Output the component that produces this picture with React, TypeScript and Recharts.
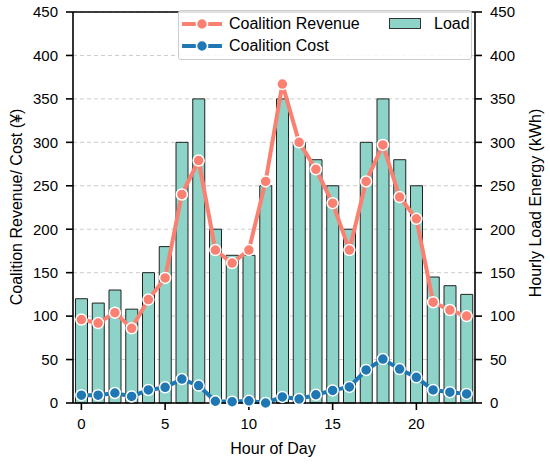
import React from 'react';
import {
  ComposedChart,
  Bar,
  Line,
  XAxis,
  YAxis,
  CartesianGrid,
  Legend,
  ReferenceLine,
} from 'recharts';

const HOURS = [0, 1, 2, 3, 4, 5, 6, 7, 8, 9, 10, 11, 12, 13, 14, 15, 16, 17, 18, 19, 20, 21, 22, 23];
const REVENUE = [96, 92, 104, 86, 119, 144, 240, 279, 176, 161, 176, 255, 367, 300, 269, 230, 176, 255, 297, 237, 212, 116, 107, 100];
const COST = [9, 9, 11.5, 7.5, 15, 18, 27.5, 20, 2, 1.5, 2.5, 0, 7, 4.5, 9.5, 14.5, 18.5, 38, 50.5, 39, 29.5, 15, 12.5, 10.5];
const LOAD = [120, 115, 130, 108, 150, 180, 300, 350, 200, 170, 170, 250, 350, 300, 280, 250, 200, 300, 350, 280, 250, 145, 135, 125];
const Y_TICKS = [0, 50, 100, 150, 200, 250, 300, 350, 400, 450];

const REV_COLOR = '#fa8072';
const COST_COLOR = '#1f77b4';
const LOAD_COLOR = '#8dd3c7';
const FONT = '"Liberation Sans", Arial, Helvetica, sans-serif';

const data = HOURS.map((h, i) => ({
  hour: h,
  revenue: REVENUE[i],
  cost: COST[i],
  load: LOAD[i],
}));

// axis titles, placed by hand
const AxisTitle = ({ tx, ty, rot, title }: any) => (
  <text
    x={tx}
    y={ty}
    transform={rot ? `rotate(${rot}, ${tx}, ${ty})` : undefined}
    textAnchor="middle"
    dominantBaseline="central"
    fill="#000"
    fontSize={16}
    fontFamily={FONT}
  >
    {title}
  </text>
);

const LineHandle = ({ color }: { color: string }) => (
  <svg width={40} height={14} style={{ display: 'block' }}>
    <line x1={1} y1={7} x2={13} y2={7} stroke={color} strokeWidth={4} strokeLinecap="round" />
    <line x1={27} y1={7} x2={39} y2={7} stroke={color} strokeWidth={4} strokeLinecap="round" />
    <circle cx={20} cy={7} r={5.5} fill={color} stroke="#fff" strokeWidth={1.5} />
  </svg>
);

const LegendBox = () => {
  const txt: React.CSSProperties = { fontSize: 16, fontFamily: FONT, color: '#000', lineHeight: '16px' };
  return (
    <div
      style={{
        position: 'relative',
        width: 294,
        height: 50,
        background: 'rgba(255,255,255,0.85)',
        border: '1px solid #cccccc',
        borderRadius: 3,
        boxSizing: 'border-box',
      }}
    >
      <div style={{ position: 'absolute', left: 3, top: 6 }}><LineHandle color={REV_COLOR} /></div>
      <div style={{ ...txt, position: 'absolute', left: 50, top: 5 }}>Coalition Revenue</div>
      <div style={{ position: 'absolute', left: 3, top: 28 }}><LineHandle color={COST_COLOR} /></div>
      <div style={{ ...txt, position: 'absolute', left: 50, top: 27 }}>Coalition Cost</div>
      <div
        style={{
          position: 'absolute',
          left: 210,
          top: 7,
          width: 32,
          height: 11,
          background: LOAD_COLOR,
          border: '1px solid #333',
          boxSizing: 'border-box',
        }}
      />
      <div style={{ ...txt, position: 'absolute', left: 255, top: 5 }}>Load</div>
    </div>
  );
};

export default function App() {
  const tick = { fill: '#000', fontSize: 15, fontFamily: FONT };
  return (
    <div style={{ position: 'absolute', left: 0, top: 0, width: 550, height: 466, background: '#fff' }}>
      <ComposedChart
        width={550}
        height={466}
        data={data}
        margin={{ top: 12, right: 0, bottom: 0, left: 0 }}
        barCategoryGap="15%"
      >
        <CartesianGrid
          yAxisId="left"
          vertical={false}
          stroke="#cccccc"
          strokeDasharray="4 3"
        />
        <XAxis
          dataKey="hour"
          interval={4}
          height={63}
          tickSize={7}
          tickMargin={8}
          tick={tick}
          axisLine={{ stroke: '#000', strokeWidth: 1.6 }}
          tickLine={{ stroke: '#000', strokeWidth: 1.6 }}
          label={<AxisTitle tx={273} ty={448} title="Hour of Day" />}
        />
        <YAxis
          yAxisId="left"
          domain={[0, 450]}
          ticks={Y_TICKS}
          width={73}
          tickSize={7}
          tickMargin={8}
          tick={tick}
          axisLine={{ stroke: '#000', strokeWidth: 1.6 }}
          tickLine={{ stroke: '#000', strokeWidth: 1.6 }}
          label={<AxisTitle tx={16} ty={207} rot={-90} title="Coalition Revenue/ Cost (¥)" />}
        />
        <YAxis
          yAxisId="right"
          orientation="right"
          domain={[0, 450]}
          ticks={Y_TICKS}
          width={75}
          tickSize={7}
          tickMargin={8}
          tick={tick}
          axisLine={{ stroke: '#000', strokeWidth: 1.6 }}
          tickLine={{ stroke: '#000', strokeWidth: 1.6 }}
          label={<AxisTitle tx={535} ty={203} rot={-90} title="Hourly Load Energy (kWh)" />}
        />
        <ReferenceLine yAxisId="left" y={450} stroke="#000" strokeWidth={1.6} />
        <Bar
          yAxisId="right"
          dataKey="load"
          fill={LOAD_COLOR}
          stroke="#222"
          strokeWidth={1}
          isAnimationActive={false}
        />
        <Line
          yAxisId="left"
          dataKey="revenue"
          stroke={REV_COLOR}
          strokeWidth={4}
          dot={{ r: 5.5, fill: REV_COLOR, stroke: '#fff', strokeWidth: 1.5 }}
          activeDot={false}
          isAnimationActive={false}
        />
        <Line
          yAxisId="left"
          dataKey="cost"
          stroke={COST_COLOR}
          strokeWidth={4}
          dot={{ r: 5.5, fill: COST_COLOR, stroke: '#fff', strokeWidth: 1.5 }}
          activeDot={false}
          isAnimationActive={false}
        />
        <Legend
          layout="horizontal"
          verticalAlign="middle"
          align="center"
          content={() => <LegendBox />}
          wrapperStyle={{ position: 'absolute', left: 178, top: 10, width: 294, height: 50 }}
        />
      </ComposedChart>
    </div>
  );
}
